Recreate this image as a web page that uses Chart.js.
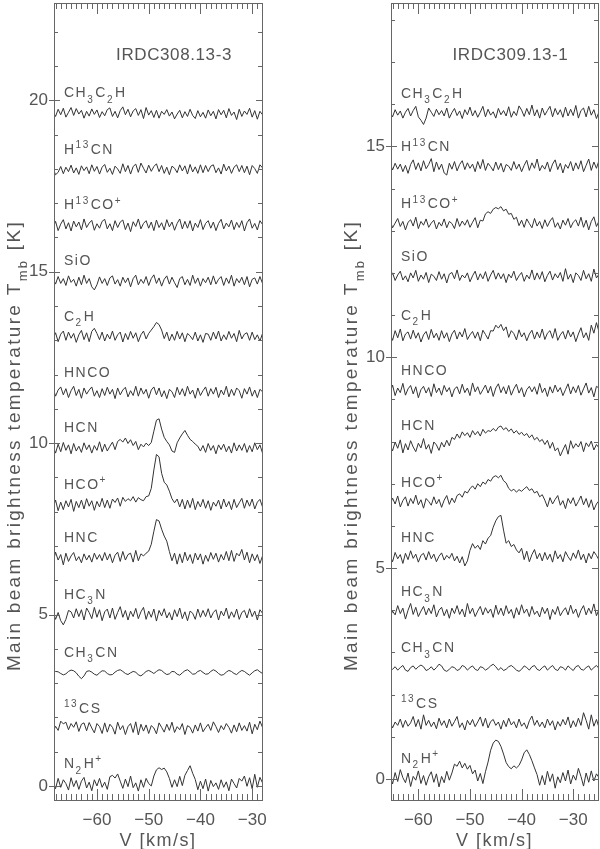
<!DOCTYPE html>
<html>
<head>
<meta charset="utf-8">
<script src="https://cdn.jsdelivr.net/npm/chart.js@4.4.0/dist/chart.umd.min.js"></script>
<style>
body { margin: 0; background: #fff; }
#page { position: relative; width: 600px; height: 849px; background: #fff; }
canvas { position: absolute; top: 0; }
</style>
</head>
<body>
<div id="page">
<canvas id="canvas308" width="300" height="849" style="left:0"></canvas>
<canvas id="canvas309" width="300" height="849" style="left:300px"></canvas>
</div>
<script>
// spectres, en mK, un canal tous les 0.5 km/s
const pasCanal = 0.5
const v0Gauche = -68.5   // vitesse du premier canal, IRDC308.13-3
const v0Droite = -65.5   // vitesse du premier canal, IRDC309.13-1

// ordre de haut en bas
const molecules = ["CH3C2H", "H13CN", "H13CO+", "SiO", "C2H", "HNCO", "HCN", "HCO+", "HNC", "HC3N", "CH3CN", "13CS", "N2H+"]

// décalages verticaux (K) de chaque spectre
const decalages308 = [19.62, 17.98, 16.35, 14.72, 13.1, 11.47, 9.85, 8.2, 6.65, 5.0, 3.3, 1.67, 0.05]
const decalages309 = [15.77, 14.5, 13.15, 11.9, 10.5, 9.2, 7.9, 6.55, 5.25, 3.95, 2.62, 1.3, 0.0]

// ---- IRDC308.13-3 ----
const ch3c2h308 = [60,-90,120,-40,150,-110,30,170,-60,140,-20,90,-140,60,-80,130,-30,100,-120,50,
  -70,110,160,-90,60,-130,80,190,-40,120,-100,70,140,-60,110,-150,170,-50,80,-120,
  90,-140,60,-30,110,-80,40,-160,-20,90,-130,50,-90,120,-60,-150,80,-100,30,-140,
  100,-70,60,-160,110,-40,90,-130,140,-60,40,-180,120,-90,70,-30,150,-110,80,-170,60,-40]
const h13cn308 = [40,-150,-80,90,-120,70,-60,130,-100,50,-140,110,-30,80,-120,140,-50,90,-130,70,
  150,-80,40,-140,100,20,-110,170,-60,120,-130,90,160,-80,190,40,-100,130,-50,90,
  170,-60,120,-110,70,-150,100,40,-90,140,-40,110,-130,150,-70,80,-110,140,-90,120,
  -60,100,140,-90,50,-130,160,-40,100,-110,70,140,-60,120,-90,100,-150,120,30,-110,140,50]
const h13cop308 = [-70,120,-150,40,170,-100,80,-160,130,-40,100,-130,190,-60,70,150,-140,50,-80,120,
  180,-100,50,-150,140,-60,100,160,-120,70,-180,110,-30,190,-100,60,140,-80,100,-150,
  160,-60,80,-130,170,-40,100,-140,60,190,-100,120,-80,140,-160,70,-60,170,-120,60,
  140,-80,100,-150,60,180,-100,70,-40,160,-120,90,-60,140,-160,80,190,-80,60,-130,140,30]
const sio308 = [100,-80,140,-60,80,-120,160,-30,60,-140,120,-100,180,-60,80,-160,-250,-100,130,-60,
  80,-120,100,160,-80,50,-140,120,-40,100,-160,80,180,-100,60,-60,140,-120,80,190,
  -60,100,-140,60,160,-80,120,-40,-180,80,140,-100,60,-120,180,-60,100,-140,80,-40,
  120,-100,160,-80,60,140,-120,100,-60,180,-140,80,-40,120,-100,140,-160,60,100,-80,140,-60]
const c2h308 = [-60,120,-140,80,170,-100,140,-40,100,-160,60,190,-80,120,-140,160,250,100,-80,140,
  -120,80,-60,170,-100,60,140,-150,100,-80,160,-40,120,-140,60,170,-60,100,200,300,
  420,360,200,-50,140,-120,80,-100,160,-60,120,-140,100,30,-80,140,-120,60,-160,100,
  80,-100,140,-60,170,-120,60,-80,160,-40,100,-140,190,-60,80,120,-100,140,-80,60,-120,100]
const hnco308 = [140,-100,80,170,-60,120,-140,60,190,-80,100,-160,140,-40,80,170,-100,60,-140,120,
  -80,160,-40,100,-170,140,-60,80,160,-120,60,-80,190,-100,140,-40,100,-160,80,170,
  -60,140,-120,60,-170,100,30,-140,160,-60,120,-100,190,-40,80,-160,140,-80,60,170,
  -100,120,-40,160,-140,80,-60,190,-120,100,-80,140,60,-160,120,-40,170,-100,80,-140,100,30]
const hcn308 = [70,-140,120,-100,170,-60,100,-160,140,-80,60,-120,160,-40,100,-140,80,-60,190,-100,
  120,-80,60,180,-40,200,260,180,300,140,250,80,200,-40,120,40,150,80,170,500,
  820,860,560,320,200,100,-80,-120,160,300,420,520,380,260,200,120,60,-80,80,-120,
  140,-60,80,-160,100,-40,120,-100,60,-140,160,-80,100,-60,140,-120,80,-100,160,-40,100,-140]
const hcop308 = [-100,140,-170,80,-140,120,-60,160,-190,100,-80,140,-120,180,-40,120,-160,100,-60,190,
  -80,140,-100,170,70,200,-40,220,100,180,120,240,80,210,150,120,240,260,480,1020,
  1470,1400,920,660,580,400,180,60,170,-60,160,-120,140,-80,190,-140,100,-60,160,-100,
  120,-160,80,-40,140,-120,170,-60,100,-140,160,-80,60,190,-100,140,-40,170,-120,80,160,-60]
const hnc308 = [-140,170,-60,100,-200,140,-100,60,160,-80,40,-140,120,-60,80,-120,140,-40,100,-80,
  160,-60,120,-140,80,170,-100,190,-60,100,140,-120,220,-80,120,60,140,200,400,780,
  1120,1080,840,640,490,190,-80,140,-180,120,-140,170,-80,100,-160,140,-60,120,-180,80,
  -100,160,-40,140,-120,100,-60,190,-80,220,-100,140,60,250,-60,170,-140,120,-80,100,-160,60]
const hc3n308 = [100,-140,60,-180,-300,-140,120,80,-100,170,-60,140,-160,190,60,-120,210,-80,140,-180,
  80,160,-100,190,-140,60,230,-80,120,-160,100,-60,180,-120,80,210,-140,100,-80,160,
  -190,120,-40,170,-100,60,-160,140,-60,190,-120,80,-180,100,40,-140,160,-80,120,-60,
  170,-100,60,140,-160,100,-40,190,-120,80,-80,160,-140,60,120,-100,170,-60,100,-160,140,40]
const ch3cn308 = [0,40,30,-20,-60,-30,40,80,60,0,-100,-170,-90,40,60,20,-40,-70,0,60,
  50,-20,-60,-50,20,70,90,40,-20,-50,0,40,20,-60,-90,-30,40,70,30,-20,
  40,90,70,0,-50,-30,40,30,-40,-70,0,60,90,30,-40,-30,40,70,10,-40,
  -30,40,90,50,-20,-70,-50,20,70,40,-20,-50,20,70,40,-20,-70,0,60,90,30,-20]
const cs13_308 = [-100,70,-50,220,140,190,-30,150,40,200,-80,130,170,-60,180,20,-120,150,60,-140,
  170,-100,130,40,-160,190,-30,90,-170,60,150,-110,200,-180,130,-70,110,-140,90,20,
  -150,170,40,-100,130,-50,190,-110,60,-30,150,-170,90,40,-130,110,-70,170,-90,30,
  130,-50,200,60,-110,90,-30,150,40,-130,110,-90,170,-50,90,-70,190,-150,130,-30,220,40]
const n2hp308 = [50,-130,170,-90,130,20,-170,190,-70,110,-150,90,200,-110,60,-190,130,-50,170,-90,
  60,-150,220,260,180,300,90,-120,150,-70,240,-100,40,-200,130,-90,170,20,-50,240,
  420,480,430,470,360,170,-90,130,-70,230,-40,260,400,540,320,140,-160,90,-130,150,
  -200,110,-70,40,-150,130,-90,70,-190,150,20,-110,170,90,240,-60,190,-130,290,-90,200,40]

// ---- IRDC309.13-1 ----
const ch3c2h309 = [50,-70,100,-30,70,-100,40,130,-50,80,180,-70,-150,-250,-100,140,40,-60,110,-20,
  80,-50,140,-100,30,130,-40,70,-110,100,-20,160,-50,80,-80,40,180,-70,110,-30,
  50,-100,130,-20,80,-50,170,-80,60,-40,190,90,-60,130,-20,210,-50,100,-100,140,
  -30,80,180,-70,130,-20,100,-80,160,-50,110,-40,200,-100,80,140,-70,180,-30,100,-110,50]
const h13cn309 = [120,-60,100,-40,80,-100,50,-140,70,180,-50,110,-80,160,-30,70,210,-100,130,-50,
  80,-130,-180,100,-40,140,-80,70,160,-50,110,-20,80,-100,140,-30,190,-70,100,20,
  -80,130,-50,100,-110,70,30,-70,140,-40,80,-100,50,170,-70,110,-20,200,-80,50,
  -40,130,-100,80,180,-50,100,-130,70,-20,140,-80,110,-40,160,-100,50,200,-70,130,-20,170]
const h13cop309 = [100,-80,30,140,-50,70,-130,50,110,-40,170,-100,70,-20,130,-70,30,100,-110,50,
  -40,130,-80,70,20,-100,140,-50,80,-20,110,-70,50,160,-80,100,80,250,300,260,
  360,400,370,420,320,360,240,260,120,170,-30,100,-70,130,20,-80,140,-40,70,-100,
  110,-50,80,160,-70,40,-110,100,-20,140,-80,50,110,-40,170,-70,100,-130,70,180,-50,80]
const sio309 = [-40,100,-80,50,140,-70,30,-110,100,-20,160,-100,50,-50,110,-130,70,20,-80,130,
  -50,80,-140,70,110,-40,170,-80,50,-20,100,-110,30,140,-70,80,-40,130,-100,50,
  160,-50,100,-40,80,-130,70,-20,140,-80,30,110,-100,50,-40,170,-70,100,-50,130,
  -110,40,140,-70,80,-20,110,-100,200,-50,70,-130,100,40,-80,160,-40,80,-100,190,-20,70]
const c2h309 = [70,-100,130,-40,170,-110,50,100,-70,140,-50,80,-140,30,110,-80,160,-40,70,-100,
  130,-50,80,-130,50,140,-70,100,-20,180,-80,30,110,-50,100,-110,140,40,-70,130,
  120,260,190,280,130,220,-30,130,60,-90,150,-20,80,-110,50,140,-70,100,-40,170,
  -80,70,130,-50,180,-100,30,110,-70,140,-20,100,-130,50,200,-40,80,-100,260,70,320,100]
const hnco309 = [-50,140,-110,70,-40,180,-100,50,130,-70,100,-160,30,110,-50,80,-130,170,-40,70,
  -100,130,-20,80,-140,50,100,-70,160,-40,70,-110,190,-20,100,-80,30,140,-50,110,
  -130,70,170,-40,100,-70,130,-100,50,160,-50,80,-140,30,110,-20,100,-80,180,-40,
  70,-130,100,-50,140,-20,80,-110,30,170,-70,100,-40,130,-100,50,190,-50,80,-140,110,70]
const hcn309 = [30,-120,90,-60,140,-170,50,-100,120,-30,-140,60,-50,170,-80,30,-180,90,20,-110,
  80,-30,130,0,200,150,280,180,330,240,310,200,360,260,340,230,390,300,360,340,
  410,350,440,470,380,430,340,400,300,360,270,320,240,290,190,260,140,200,100,150,
  30,130,-60,80,-120,-50,-240,-100,30,-200,120,-60,50,-30,100,-140,70,-20,110,-100,30,-50]
const hcop309 = [-60,110,-30,160,-100,50,140,-80,100,-20,180,-50,70,-130,100,30,-60,140,-30,80,
  -110,60,170,-40,110,0,170,210,130,270,230,330,400,320,450,380,490,440,550,510,
  610,640,590,650,520,470,340,280,320,250,310,270,330,380,290,330,230,270,140,190,
  60,-100,120,-30,80,170,-60,50,-140,100,-20,120,-80,30,160,-50,100,-110,70,-170,-30,50]
const hnc309 = [50,-100,120,-30,70,-140,100,-50,160,-20,80,-110,50,100,-60,140,-30,80,-100,30,
  110,-60,50,-20,100,-80,30,-130,20,-200,-80,170,330,220,290,190,400,320,460,520,
  720,870,970,1000,650,340,400,260,310,180,110,220,-50,150,-100,70,190,-30,100,-80,
  120,-50,80,-110,160,-30,70,-100,140,20,-70,110,-20,180,-50,80,-130,100,-30,140,50,-60]
const hc3n309 = [-120,30,-60,160,-30,100,-160,50,210,-50,120,-100,30,140,-60,100,-30,180,-110,50,
  120,-80,70,-140,100,-30,160,-50,80,-110,210,-30,100,-100,30,140,-60,110,-20,80,
  -120,170,-50,100,-80,160,-30,70,-140,110,-60,180,-20,80,-100,140,-50,30,-110,120,
  -30,100,-170,70,-50,140,-80,30,110,-60,170,-30,80,-120,50,160,-60,100,-30,200,-80,70]
const ch3cn309 = [-50,-20,40,-40,20,70,-40,-70,20,60,-20,40,80,40,-50,-20,40,-40,20,100,
  60,-40,-70,-20,40,20,-50,-20,70,40,-40,20,60,-20,-50,40,20,-40,0,60,
  100,40,-40,20,-50,-20,40,70,20,-40,-70,-20,60,20,-40,40,70,-20,-50,20,
  60,-40,20,70,-20,-50,40,20,-40,60,0,-50,40,70,-20,-40,20,60,-40,20,70,0]
const cs13_309 = [60,-90,50,-30,120,-80,90,-50,30,180,-60,110,-120,220,-30,90,-60,50,-110,140,
  -30,80,-90,120,-50,60,180,-80,30,-140,90,-20,110,-60,50,170,-50,140,-90,60,
  110,-30,50,-120,90,-60,140,-20,60,-90,120,-50,30,-110,80,190,-30,90,-60,50,
  -90,120,-30,80,-140,60,-50,110,-20,170,-90,80,-60,140,-30,270,90,-120,220,-50,110,-80]
const n2hp309 = [90,-120,150,-60,220,30,-90,140,-180,60,-30,190,-110,80,-150,50,170,-80,120,-190,
  60,-90,180,-30,140,350,300,420,260,370,230,320,120,210,-50,130,-110,170,400,680,
  850,920,890,770,590,390,290,240,310,260,320,450,620,690,580,430,260,100,-150,80,
  -140,180,-60,120,-220,50,-90,150,-50,210,-120,90,-30,250,60,-170,140,-80,190,-50,120,30]

const spectres308 = [ch3c2h308, h13cn308, h13cop308, sio308, c2h308, hnco308, hcn308, hcop308, hnc308, hc3n308, ch3cn308, cs13_308, n2hp308]
const spectres309 = [ch3c2h309, h13cn309, h13cop309, sio309, c2h309, hnco309, hcn309, hcop309, hnc309, hc3n309, ch3cn309, cs13_309, n2hp309]

// étiquettes avec indices (-1) et exposants (+1)
const etiquettes = [
    [["CH"], ["3", -1], ["C"], ["2", -1], ["H"]],
    [["H"], ["13", 1], ["CN"]],
    [["H"], ["13", 1], ["CO"], ["+", 1]],
    [["SiO"]],
    [["C"], ["2", -1], ["H"]],
    [["HNCO"]],
    [["HCN"]],
    [["HCO"], ["+", 1]],
    [["HNC"]],
    [["HC"], ["3", -1], ["N"]],
    [["CH"], ["3", -1], ["CN"]],
    [["13", 1], ["CS"]],
    [["N"], ["2", -1], ["H"], ["+", 1]]
]

const police = "'Liberation Sans', Arial, sans-serif"
const couleurTexte = "#555"
const couleurAxe = "#666"
const couleurSpectre = "#333"

Chart.defaults.font.family = police

// écrit un texte avec indices/exposants, retourne la largeur
function texteRiche(ctx, morceaux, x, y, taille, espace, dessiner) {
    let cx = x
    ctx.letterSpacing = espace + "px"
    for (const [txt, pos] of morceaux) {
        const t = pos ? Math.round(taille * 0.68) : taille
        ctx.font = t + "px " + police
        let dy = 0
        if (pos === -1) dy = taille * 0.38
        if (pos === 1) dy = -taille * 0.42
        if (dessiner) ctx.fillText(txt, cx, y + dy)
        cx += ctx.measureText(txt).width + (pos ? 1 : 0)
    }
    ctx.letterSpacing = "0px"
    return cx - x
}

const pluginCadre = {
    id: "cadre",
    afterDraw(chart, args, opts) {
        const ctx = chart.ctx
        const {left, right, top, bottom} = chart.chartArea
        const sx = chart.scales.x
        const sy = chart.scales.y
        ctx.save()
        ctx.strokeStyle = couleurAxe
        ctx.lineWidth = 1
        ctx.strokeRect(Math.round(left) + 0.5, Math.round(top) + 0.5, Math.round(right - left), Math.round(bottom - top))
        ctx.beginPath()
        // graduations en vitesse, vers l'intérieur
        sx.ticks.forEach(t => {
            const px = Math.round(sx.getPixelForValue(t.value)) + 0.5
            const l = t.value % 10 === 0 ? 11 : 6
            ctx.moveTo(px, bottom); ctx.lineTo(px, bottom - l)
            ctx.moveTo(px, top); ctx.lineTo(px, top + l)
        })
        sy.ticks.forEach(t => {
            const py = Math.round(sy.getPixelForValue(t.value)) + 0.5
            const maj = t.value % 5 === 0
            ctx.moveTo(left - (maj ? 5 : 0), py); ctx.lineTo(left + (maj ? 6 : 4), py)
            ctx.moveTo(right, py); ctx.lineTo(right - (maj ? 6 : 4), py)
        })
        ctx.stroke()

        ctx.fillStyle = couleurTexte
        ctx.textBaseline = "alphabetic"
        // nom des raies
        opts.decalages.forEach((d, k) => {
            const py = sy.getPixelForValue(d) - 16
            texteRiche(ctx, etiquettes[k], left + 10, py, 14, 1.5, true)
        })
        // nom de la source et titre en vitesse
        const lt = texteRiche(ctx, [[opts.titre]], 0, 0, 17, 0.6, false)
        texteRiche(ctx, [[opts.titre]], left + 0.577 * (right - left) - lt / 2, 60, 17, 0.6, true)
        const lv = texteRiche(ctx, [["V [km/s]"]], 0, 0, 18, 1.5, false)
        texteRiche(ctx, [["V [km/s]"]], (left + right) / 2 - lv / 2, 846, 18, 1.5, true)

        // titre de l'axe vertical, tourné
        const titreY = [["Main beam brightness temperature T"], ["mb", -1], [" [K]"]]
        const largeur = texteRiche(ctx, titreY, 0, 0, 19, 2.3, false)
        ctx.translate(left - 34, 220 + largeur / 2)
        ctx.rotate(-Math.PI / 2)
        texteRiche(ctx, titreY, -largeur / 2, 0, 19, 2.3, true)
        ctx.restore()
    }
}

function creerPanneau(idCanvas, titre, v0, spectres, decalages, xMin, xMax, yMin, yMax, largeurAxeY, margeDroite) {
    let datasets = []
    for (let k = 0; k < spectres.length; k++) {
        let points = spectres[k].map((t, i) => ({x: v0 + i * pasCanal, y: decalages[k] + t / 1000}))
        datasets.push({
            data: points,
            borderColor: couleurSpectre,
            borderWidth: 1,
            pointRadius: 0,
            tension: 0,
            fill: false
        })
    }
    new Chart(document.getElementById(idCanvas), {
        type: "line",
        data: {datasets: datasets},
        options: {
            responsive: false,
            animation: false,
            events: [],
            layout: {padding: {left: 0, right: margeDroite, top: 3, bottom: 0}},
            scales: {
                x: {
                    type: "linear",
                    min: xMin,
                    max: xMax,
                    grid: {display: false, drawTicks: false},
                    border: {display: false},
                    afterBuildTicks: scale => {
                        let t = []
                        for (let v = Math.ceil(scale.min); v <= Math.floor(scale.max); v++) t.push({value: v})
                        scale.ticks = t
                    },
                    afterFit: scale => {
                        scale.height = 49
                        scale.paddingLeft = 0
                        scale.paddingRight = 0
                    },
                    ticks: {
                        autoSkip: false,
                        maxRotation: 0,
                        padding: 10,
                        color: couleurTexte,
                        font: {size: 17},
                        callback: v => v % 10 === 0 ? String(v).replace("-", "\u2212") : ""
                    }
                },
                y: {
                    min: yMin,
                    max: yMax,
                    grid: {display: false, drawTicks: false},
                    border: {display: false},
                    afterBuildTicks: scale => {
                        let t = []
                        for (let v = Math.ceil(scale.min); v <= Math.floor(scale.max); v++) t.push({value: v})
                        scale.ticks = t
                    },
                    afterFit: scale => {
                        scale.width = largeurAxeY
                        scale.paddingTop = 0
                        scale.paddingBottom = 0
                    },
                    ticks: {
                        autoSkip: false,
                        padding: 6,
                        color: couleurTexte,
                        font: {size: 17},
                        callback: v => v % 5 === 0 ? v : ""
                    }
                }
            },
            plugins: {
                legend: {display: false},
                tooltip: {enabled: false},
                cadre: {titre: titre, decalages: decalages}
            }
        },
        plugins: [pluginCadre]
    })
}

creerPanneau("canvas308", "IRDC308.13-3", v0Gauche, spectres308, decalages308, -68.3, -28.1, -0.41, 22.84, 54, 38)
creerPanneau("canvas309", "IRDC309.13-1", v0Droite, spectres309, decalages309, -65.3, -25.2, -0.5, 18.4, 91, 2)
</script>
</body>
</html>
